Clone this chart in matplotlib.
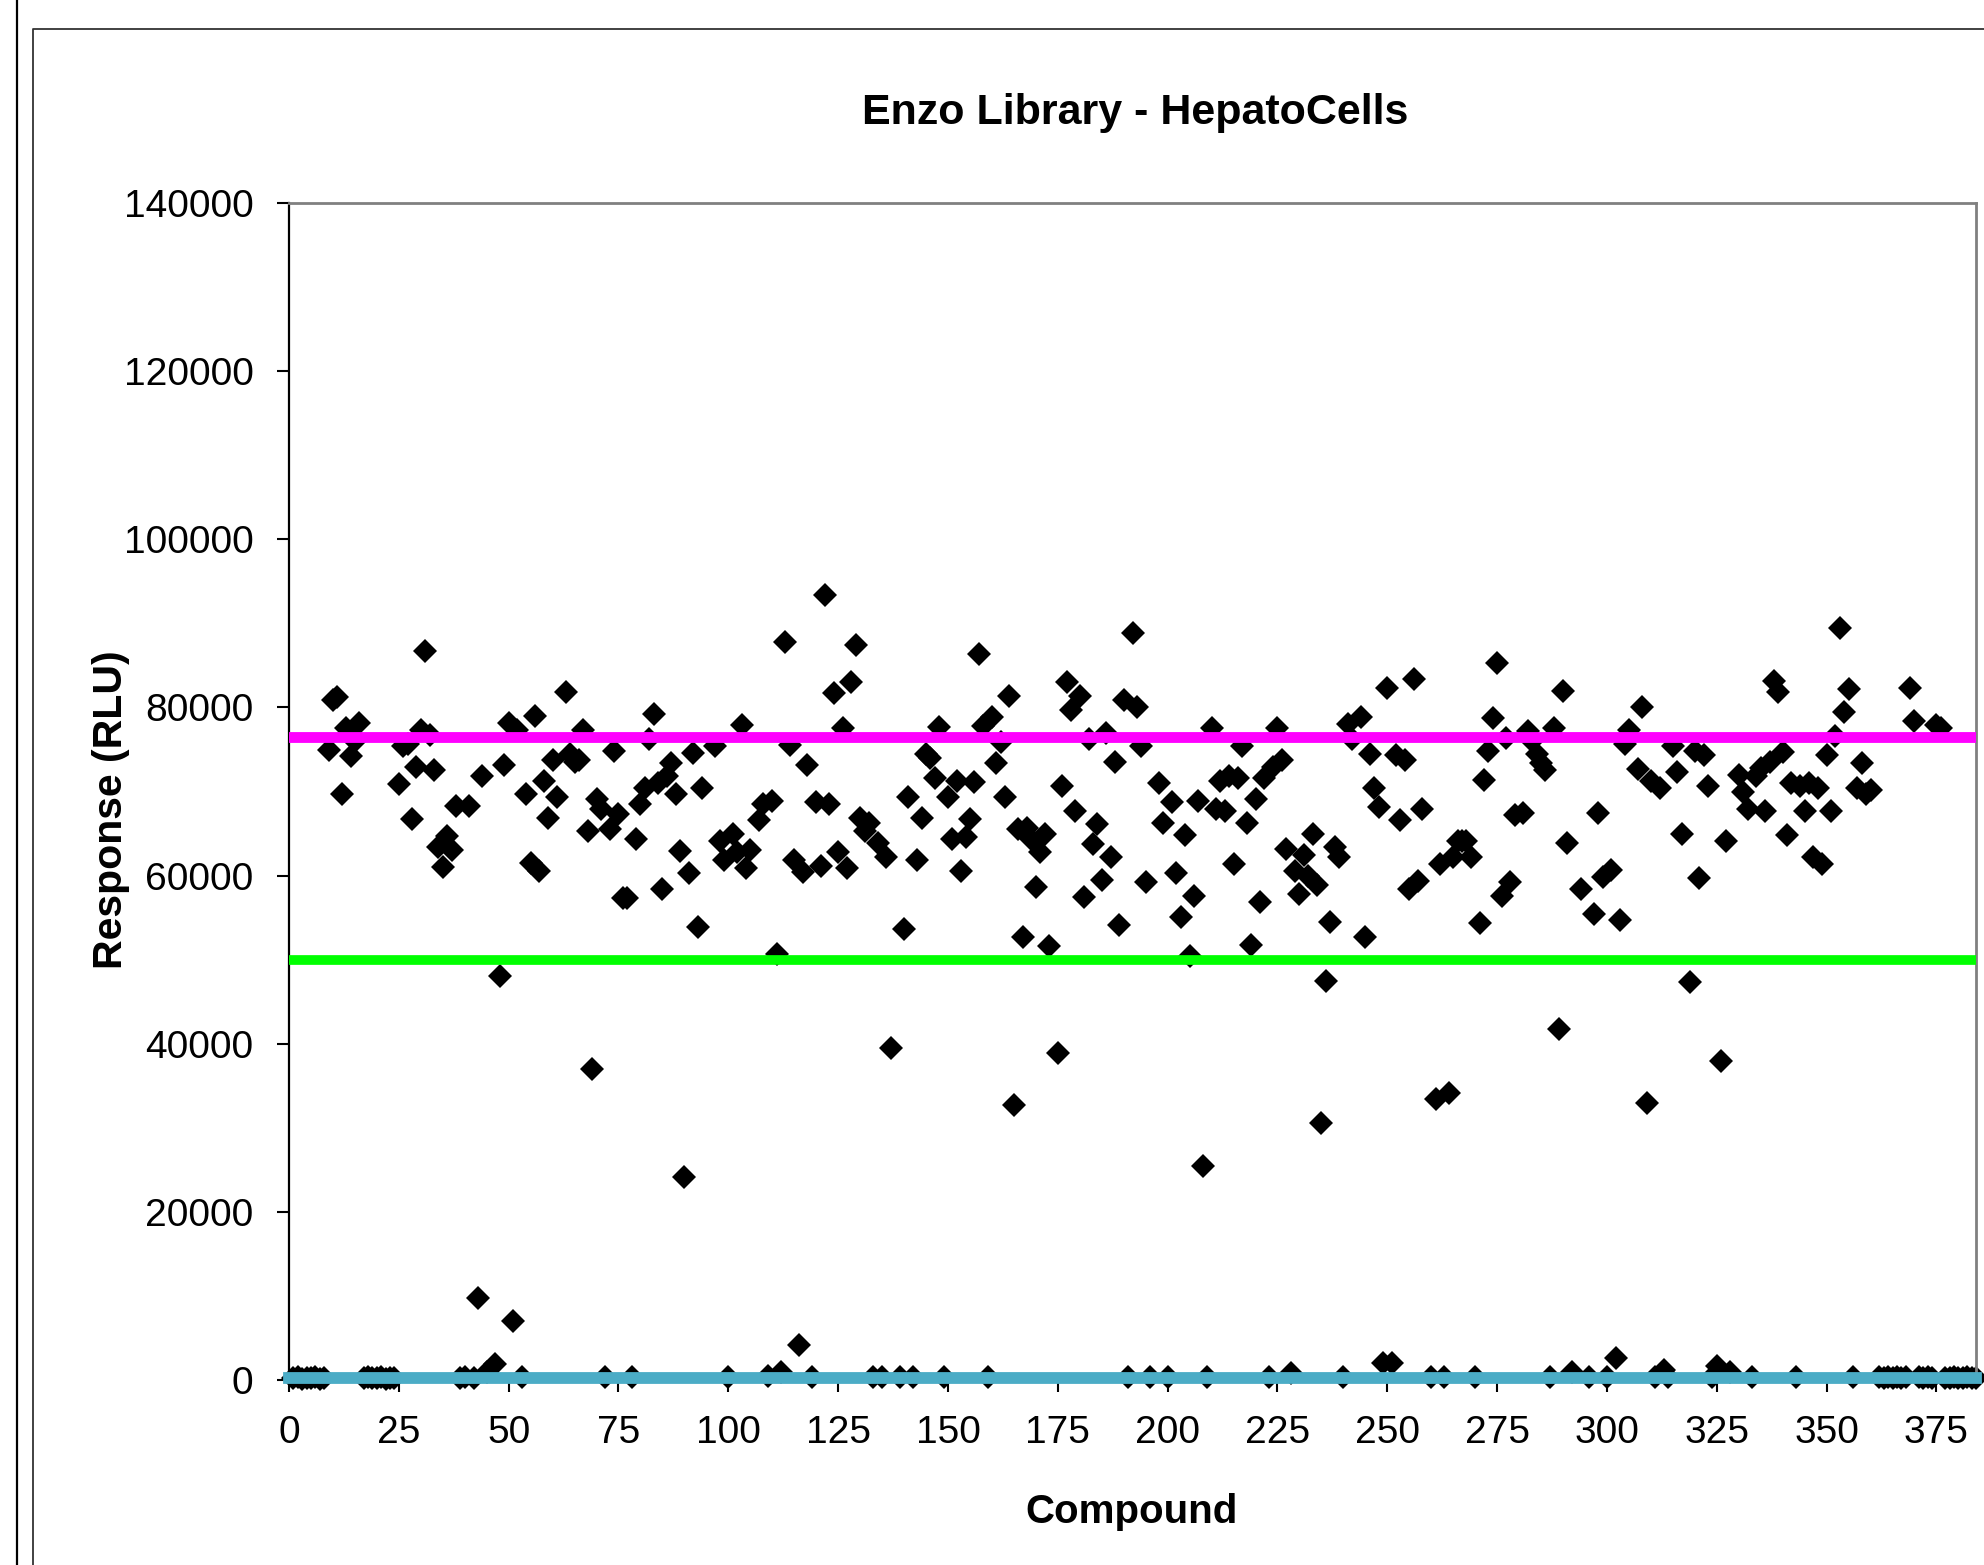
import matplotlib
matplotlib.use("Agg")
import matplotlib.pyplot as plt
from matplotlib.lines import Line2D

plt.rcParams['font.family'] = ['Liberation Sans', 'DejaVu Sans']

# ---------------- data ----------------
compound = [
    1, 2, 3, 4, 5, 6, 7, 8, 9, 10, 11, 12, 13, 14, 15, 16, 17, 18, 19, 20,
    21, 22, 23, 24, 25, 26, 27, 28, 29, 30, 31, 32, 33, 34, 35, 36, 37, 38, 39, 40,
    41, 42, 43, 44, 45, 47, 48, 49, 50, 51, 52, 53, 54, 55, 56, 57, 58, 59, 60, 61,
    63, 64, 65, 66, 67, 68, 69, 70, 71, 72, 73, 74, 75, 76, 77, 78, 79, 80, 81, 82,
    83, 84, 85, 86, 87, 88, 89, 90, 91, 92, 93, 94, 97, 98, 99, 100, 101, 102, 103, 104,
    105, 107, 108, 109, 110, 111, 112, 113, 114, 115, 116, 117, 118, 119, 120, 121, 122, 123, 124, 125,
    126, 127, 128, 129, 130, 131, 132, 133, 134, 135, 136, 137, 139, 140, 141, 142, 143, 144, 145, 146,
    147, 148, 149, 150, 151, 152, 153, 154, 155, 156, 157, 158, 159, 160, 161, 162, 163, 164, 165, 166,
    167, 168, 169, 170, 171, 172, 173, 175, 176, 177, 178, 179, 180, 181, 182, 183, 184, 185, 186, 187,
    188, 189, 190, 191, 192, 193, 194, 195, 196, 198, 199, 200, 201, 202, 203, 204, 205, 206, 207, 208,
    209, 210, 211, 212, 213, 214, 215, 216, 217, 218, 219, 220, 221, 222, 223, 224, 225, 226, 227, 228,
    229, 230, 231, 232, 233, 234, 235, 236, 237, 238, 239, 240, 241, 242, 244, 245, 246, 247, 248, 249,
    250, 251, 252, 253, 254, 255, 256, 257, 258, 260, 261, 262, 263, 264, 265, 266, 267, 268, 269, 270,
    271, 272, 273, 274, 275, 276, 277, 278, 279, 281, 282, 283, 284, 285, 286, 287, 288, 289, 290, 291,
    292, 294, 296, 297, 298, 299, 300, 301, 302, 303, 304, 305, 307, 308, 309, 310, 311, 312, 313, 314,
    315, 316, 317, 319, 320, 321, 322, 323, 324, 325, 326, 327, 328, 330, 331, 332, 333, 334, 335, 336,
    337, 338, 339, 340, 341, 342, 343, 344, 345, 346, 347, 348, 349, 350, 351, 352, 353, 354, 355, 356,
    357, 358, 359, 360, 362, 363, 364, 365, 366, 367, 368, 369, 370, 371, 372, 373, 374, 375, 376, 377,
    378, 379, 380, 381, 382, 383, 384,
]
response = [
    200, 300, 150, 250, 200, 300, 150, 250, 74900, 80900, 81200, 69700, 77500, 74200, 76000, 78100, 200, 300, 250, 200,
    300, 150, 250, 200, 70900, 75400, 75700, 66700, 72900, 77300, 86750, 76700, 72600, 63400, 61000, 64700, 63000, 68300, 200, 300,
    68300, 250, 9800, 71800, 1000, 1900, 48100, 73100, 78200, 7000, 77300, 300, 69700, 61500, 79000, 60600, 71300, 66900, 73800, 69400,
    81800, 74500, 73500, 73800, 77300, 65300, 37000, 69100, 67900, 300, 65500, 74800, 67300, 57300, 57300, 300, 64400, 68500, 70400, 76200,
    79200, 71000, 58400, 71900, 73400, 69700, 62900, 24200, 60300, 74600, 53900, 70400, 75400, 64100, 61900, 300, 65000, 62800, 77900, 60900,
    63000, 66600, 68500, 500, 68900, 50700, 1000, 87800, 75500, 61900, 4200, 60400, 73100, 300, 68800, 61100, 93400, 68500, 81700, 62800,
    77500, 60900, 83000, 87400, 66900, 65300, 66300, 300, 63900, 300, 62200, 39500, 300, 53600, 69400, 300, 61900, 66900, 74500, 74000,
    71600, 77700, 300, 69400, 64400, 71300, 60600, 64600, 66700, 71100, 86300, 77800, 300, 78900, 73400, 75900, 69400, 81300, 32700, 65500,
    52700, 65600, 64400, 58700, 62800, 65000, 51600, 38900, 70600, 83000, 79700, 67700, 81300, 57500, 76200, 63800, 66100, 59500, 77000, 62200,
    73500, 54100, 80900, 300, 88800, 80100, 75400, 59200, 300, 71000, 66300, 300, 68800, 60300, 55100, 64800, 50400, 57600, 68900, 25500,
    300, 77500, 67900, 71300, 67700, 71900, 61400, 71600, 75400, 66300, 51800, 69100, 56800, 71600, 300, 72900, 77600, 73700, 63200, 800,
    60600, 57800, 62500, 60000, 64900, 58900, 30600, 47500, 54500, 63400, 62200, 300, 78000, 76300, 78900, 52700, 74500, 70400, 68200, 2000,
    82300, 2000, 74300, 66600, 73800, 58400, 83400, 59300, 67900, 300, 33400, 61400, 300, 34100, 62200, 64100, 64100, 64100, 62200, 300,
    54300, 71400, 74800, 78700, 85300, 57600, 76400, 59200, 67200, 67500, 77200, 76000, 74500, 73400, 72600, 300, 77600, 41700, 82000, 63900,
    1000, 58400, 300, 55400, 67500, 59800, 300, 60700, 2600, 54700, 75700, 77300, 72700, 80000, 33000, 71300, 300, 70400, 1200, 300,
    75400, 72300, 64900, 47300, 74800, 59700, 74300, 70700, 300, 1700, 38000, 64100, 1000, 72000, 70000, 67900, 300, 71900, 72800, 67700,
    73500, 83100, 81800, 74700, 64800, 71000, 300, 70700, 67700, 71000, 62200, 70400, 61400, 74300, 67700, 76600, 89400, 79500, 82200, 300,
    70400, 73400, 69700, 70200, 300, 200, 300, 250, 300, 200, 300, 82300, 78400, 300, 200, 300, 250, 77900, 77500, 250,
    200, 300, 250, 200, 300, 250, 200,
]

positive_mean = 76500     # magenta line
hit_threshold = 50000     # green line
negative_mean = 250       # blue line

x_ticks = list(range(0, 376, 25))
y_ticks = list(range(0, 140001, 20000))
x_max = 384
y_max = 140000

title = "Enzo Library - HepatoCells"
x_label = "Compound"
y_label = "Response (RLU)"

# ---------------- figure ----------------
W, H = 1984, 1565
fig = plt.figure(figsize=(W / 100, H / 100), dpi=100)
fig.patch.set_facecolor('white')

# outer chart frame lines (picture is a crop of a framed chart)
fig.add_artist(Line2D([17 / W, 17 / W], [0, 1], transform=fig.transFigure,
                      color='black', lw=1.6))
fig.add_artist(Line2D([33 / W, 33 / W, 1.0], [0, 1 - 29 / H, 1 - 29 / H],
                      transform=fig.transFigure, color='#333333', lw=1.3))

ax = fig.add_axes([289 / W, 1 - 1380 / H, (1976 - 289) / W, (1380 - 203) / H])

ax.plot(compound, response, linestyle='none', marker='D', ms=12.5,
        color='black', mec='black', mew=0, zorder=2, clip_on=False)

ax.axhline(positive_mean, color='#FF00FF', lw=7.8, zorder=3)
ax.axhline(hit_threshold, color='#00FF00', lw=7.0, zorder=3)
ax.axhline(negative_mean, color='#4BACC6', lw=8.5, zorder=3, clip_on=False)

ax.set_xlim(0, x_max)
ax.set_ylim(0, y_max)
ax.set_xticks(x_ticks)
ax.set_xticklabels([str(v) for v in x_ticks])
ax.set_yticks(y_ticks)
ax.set_yticklabels([str(v) for v in y_ticks])

ax.tick_params(axis='both', direction='out', length=8.5, width=1.5,
               labelsize=28, pad=17, colors='black')
ax.tick_params(top=False, right=False)

for side in ('left', 'bottom'):
    ax.spines[side].set_color('black')
    ax.spines[side].set_linewidth(1.6)
for side in ('top', 'right'):
    ax.spines[side].set_color('#808080')
    ax.spines[side].set_linewidth(2.0)

fig.text(1135 / W, 1 - 113 / H, title, ha='center', va='center',
         fontsize=31, fontweight='bold')
fig.text(1132 / W, 1 - 1512 / H, x_label, ha='center', va='center',
         fontsize=29, fontweight='bold')
fig.text(111 / W, 1 - 810 / H, y_label, ha='center', va='center',
         rotation=90, fontsize=29.5, fontweight='bold')

fig.savefig('out.png', dpi=100, facecolor='white')
